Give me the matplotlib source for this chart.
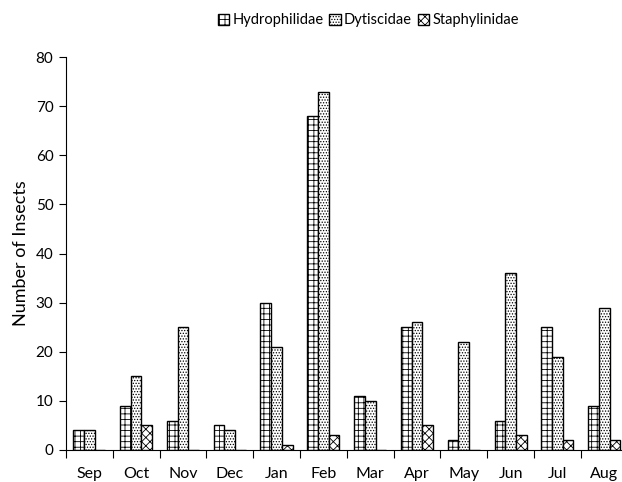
import numpy as np
import matplotlib.pyplot as plt
from matplotlib.ticker import FixedLocator, NullFormatter

plt.rcParams['font.family'] = ['Lato', 'DejaVu Sans']
plt.rcParams['hatch.linewidth'] = 0.6

months = ["Sep", "Oct", "Nov", "Dec", "Jan", "Feb", "Mar", "Apr", "May", "Jun", "Jul", "Aug"]
hydrophilidae = [4, 9, 6, 5, 30, 68, 11, 25, 2, 6, 25, 9]
dytiscidae = [4, 15, 25, 4, 21, 73, 10, 26, 22, 36, 19, 29]
staphylinidae = [0, 5, 0, 0, 1, 3, 0, 5, 0, 3, 2, 2]

series = [
    ("Hydrophilidae", hydrophilidae, "+++"),
    ("Dytiscidae", dytiscidae, "......"),
    ("Staphylinidae", staphylinidae, "xxxx"),
]

fig = plt.figure(figsize=(6.22, 4.82), dpi=100)
ax = fig.add_axes([0.106, 0.0664, 0.903, 0.815])

x = np.arange(len(months))
w = 0.229
for i, (name, vals, hatch) in enumerate(series):
    ax.bar(x + (i - 1) * w, vals, width=w, color="white", edgecolor="black",
           linewidth=1.0, hatch=hatch, label=name)

ax.set_xlim(-0.5, len(months) - 0.5)
ax.set_ylim(0, 80)
ax.set_yticks(range(0, 81, 10))
ax.xaxis.set_major_locator(FixedLocator(np.arange(-0.5, len(months), 1)))
ax.xaxis.set_major_formatter(NullFormatter())
ax.xaxis.set_minor_locator(FixedLocator(x))
ax.set_xticklabels(months, minor=True)
ax.tick_params(axis="x", which="minor", length=0, pad=12, labelsize=11.5)
ax.tick_params(axis="x", which="major", length=6, direction="out")
ax.tick_params(axis="y", length=5, labelsize=11, pad=4)
for s in ("top", "right"):
    ax.spines[s].set_visible(False)
ax.set_ylabel("Number of Insects", fontsize=13, labelpad=5)

fig.legend(loc="center", bbox_to_anchor=(0.592, 0.958), ncol=3, frameon=False,
           fontsize=10.5, handlelength=0.8, handleheight=0.8, handletextpad=0.2,
           columnspacing=0.4)

fig.savefig("out.png", dpi=100)
